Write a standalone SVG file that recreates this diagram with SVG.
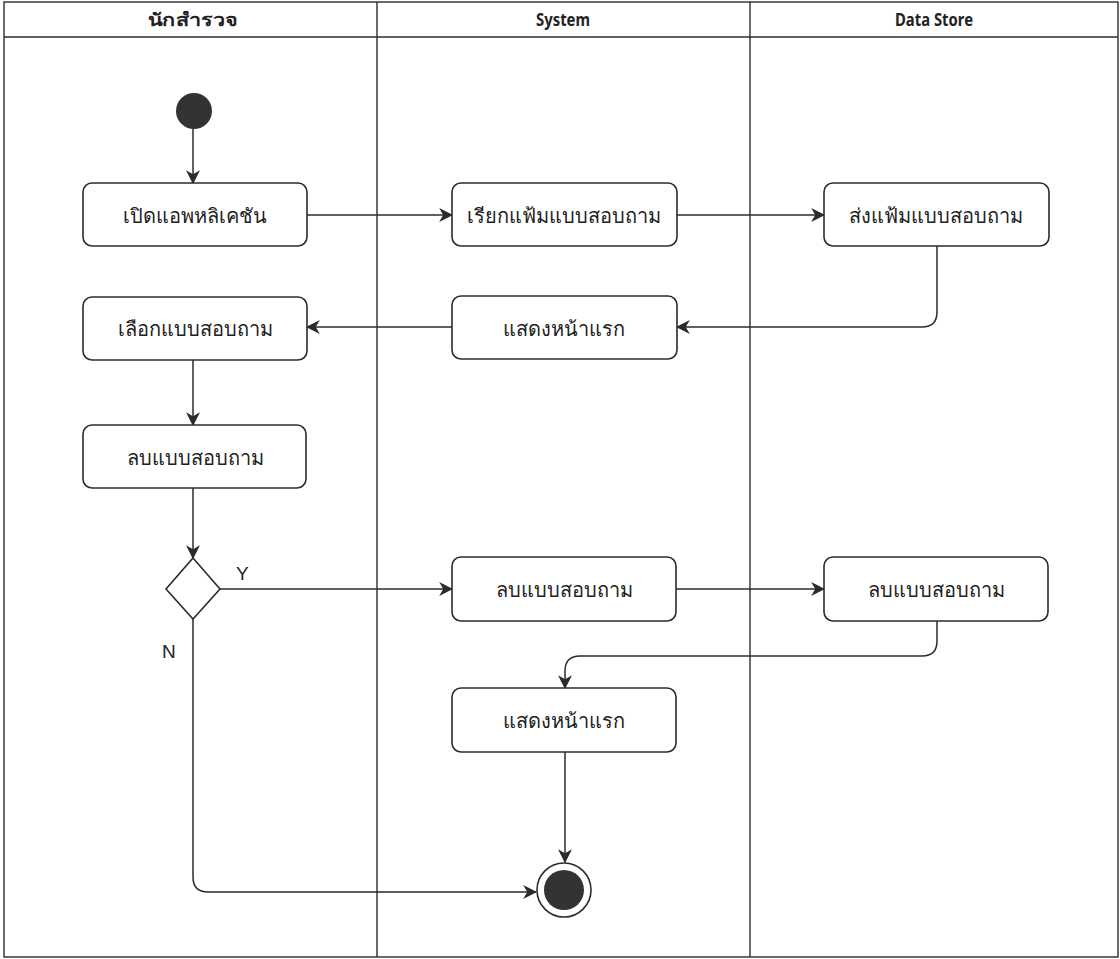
<svg xmlns="http://www.w3.org/2000/svg" width="1120" height="959" viewBox="0 0 1120 959">
  <style>
    .lane { fill: none; stroke: #2b2b2b; stroke-width: 1.4; }
    .head { font-family: "Noto Sans", "Liberation Sans", sans-serif; font-size: 18px; font-weight: bold; fill: #222; text-anchor: middle; }
    .box { fill: #fff; stroke: #2b2b2b; stroke-width: 1.6; }
    .lbl { font-family: "Noto Sans", "Liberation Sans", sans-serif; font-size: 20px; fill: #222; text-anchor: middle; dominant-baseline: central; }
    .edge { fill: none; stroke: #2b2b2b; stroke-width: 1.5; }
    .guard { font-family: "Liberation Sans", Arial, sans-serif; font-size: 19px; fill: #222; }
  </style>
  <defs>
    <marker id="arrow" viewBox="0 0 12 12" refX="11" refY="6" markerWidth="14" markerHeight="14" markerUnits="userSpaceOnUse" orient="auto">
      <path d="M0,0 L12,6 L0,12 L3.5,6 z" fill="#2b2b2b"/>
    </marker>
  </defs>
  <rect width="1120" height="959" fill="#fff"/>

  <!-- swimlanes -->
  <g id="lanes">
    <rect class="lane" x="4" y="2" width="1114" height="955"/>
    <line class="lane" x1="4" y1="37" x2="1118" y2="37"/>
    <line class="lane" x1="377" y1="2" x2="377" y2="957"/>
    <line class="lane" x1="750" y1="2" x2="750" y2="957"/>
    <text class="head" x="193" y="26" textLength="90" lengthAdjust="spacingAndGlyphs">นักสำรวจ</text>
    <text class="head" x="563" y="26" textLength="54" lengthAdjust="spacingAndGlyphs">System</text>
    <text class="head" x="934" y="26" textLength="78" lengthAdjust="spacingAndGlyphs">Data Store</text>
  </g>

  <!-- connectors -->
  <g id="connectors">
    <path class="edge" marker-end="url(#arrow)" d="M193,129 L193,183"/>
    <path class="edge" marker-end="url(#arrow)" d="M307,215 L452,215"/>
    <path class="edge" marker-end="url(#arrow)" d="M677,215 L824,215"/>
    <path class="edge" marker-end="url(#arrow)" d="M937,246 L937,312 Q937,327 922,327 L677,327"/>
    <path class="edge" marker-end="url(#arrow)" d="M452,327 L307,327"/>
    <path class="edge" marker-end="url(#arrow)" d="M193,360 L193,425"/>
    <path class="edge" marker-end="url(#arrow)" d="M193,488 L193,558"/>
    <path class="edge" marker-end="url(#arrow)" d="M220,589 L452,589"/>
    <path class="edge" marker-end="url(#arrow)" d="M676,589 L824,589"/>
    <path class="edge" marker-end="url(#arrow)" d="M937,620 L937,641 Q937,656 922,656 L580,656 Q565,656 565,671 L565,688"/>
    <path class="edge" marker-end="url(#arrow)" d="M565,752 L565,862"/>
    <path class="edge" marker-end="url(#arrow)" d="M193,619 L193,877 Q193,892 208,892 L536,892"/>
    <text class="guard" x="236" y="580">Y</text>
    <text class="guard" x="162" y="658">N</text>
  </g>

  <!-- nodes -->
  <g id="start"><circle cx="194" cy="111" r="18" fill="#333"/></g>

  <g id="open-app">
    <rect class="box" x="83" y="183" width="224" height="63" rx="9"/>
    <text class="lbl" x="195" y="215">เปิดแอพหลิเคชัน</text>
  </g>
  <g id="request-form">
    <rect class="box" x="452" y="183" width="225" height="63" rx="9"/>
    <text class="lbl" x="564" y="215">เรียกแฟ้มแบบสอบถาม</text>
  </g>
  <g id="send-form">
    <rect class="box" x="824" y="183" width="225" height="63" rx="9"/>
    <text class="lbl" x="936" y="215">ส่งแฟ้มแบบสอบถาม</text>
  </g>
  <g id="show-home-1">
    <rect class="box" x="452" y="296" width="225" height="63" rx="9"/>
    <text class="lbl" x="564" y="328">แสดงหน้าแรก</text>
  </g>
  <g id="select-form">
    <rect class="box" x="83" y="297" width="224" height="63" rx="9"/>
    <text class="lbl" x="195" y="328">เลือกแบบสอบถาม</text>
  </g>
  <g id="delete-form-user">
    <rect class="box" x="83" y="425" width="223" height="63" rx="9"/>
    <text class="lbl" x="195" y="457">ลบแบบสอบถาม</text>
  </g>
  <g id="decision">
    <polygon class="box" points="193,558 220,589 193,619 166,589"/>
  </g>
  <g id="delete-form-system">
    <rect class="box" x="452" y="557" width="224" height="64" rx="9"/>
    <text class="lbl" x="564" y="589">ลบแบบสอบถาม</text>
  </g>
  <g id="delete-form-store">
    <rect class="box" x="824" y="557" width="224" height="64" rx="9"/>
    <text class="lbl" x="936" y="589">ลบแบบสอบถาม</text>
  </g>
  <g id="show-home-2">
    <rect class="box" x="452" y="688" width="224" height="64" rx="9"/>
    <text class="lbl" x="564" y="720">แสดงหน้าแรก</text>
  </g>
  <g id="end">
    <circle cx="564" cy="890" r="27" fill="#fff" stroke="#2b2b2b" stroke-width="1.6"/>
    <circle cx="564" cy="890" r="20" fill="#333"/>
  </g>
</svg>
